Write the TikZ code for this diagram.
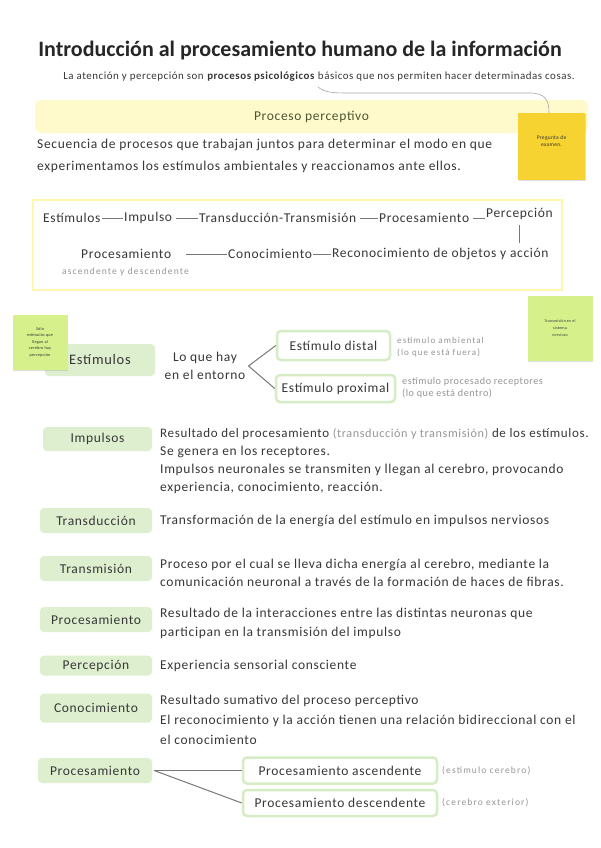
\documentclass[tikz,border=0pt]{standalone}
\usepackage{fontspec}
\setmainfont{Carlito}[LetterSpace=5]
\newfontfamily\titlefont{Carlito}
\newfontfamily\spacedfont{Carlito}[LetterSpace=12]
\usetikzlibrary{shadows}
\definecolor{txt}{RGB}{55,55,55}
\definecolor{graytxt}{RGB}{150,150,150}
\definecolor{greenfill}{RGB}{221,239,206}
\definecolor{greenline}{RGB}{214,236,196}
\definecolor{bandfill}{RGB}{255,250,204}
\definecolor{boxline}{RGB}{255,246,175}
\definecolor{stickyY}{RGB}{246,211,48}
\definecolor{stickyG}{RGB}{214,240,140}
\definecolor{connc}{RGB}{120,120,120}
\definecolor{olive}{RGB}{75,85,50}
\tikzset{
  lbl/.style={fill=greenfill, rounded corners=4pt, minimum width=110pt, minimum height=24pt,
    font=\fontsize{13.5}{15}\selectfont, text=txt, inner sep=0pt},
  desc/.style={anchor=base west, align=left, font=\fontsize{13.5}{18}\selectfont, text=txt, inner sep=0pt},
  wbox/.style={draw=greenline, line width=2.5pt, fill=white, rounded corners=4pt,
    font=\fontsize{13.5}{15}\selectfont, text=txt, inner sep=0pt},
  flow/.style={font=\fontsize{13.5}{15}\selectfont, text=txt, inner sep=1pt},
  conn/.style={draw=connc, line width=0.8pt},
  noteg/.style={font=\spacedfont\fontsize{9.5}{12}\selectfont, text=graytxt, align=left, inner sep=0pt},
  sticky/.style={minimum width=#1, minimum height=#1, inner sep=2pt, align=center,
    font=\fontsize{4.5}{6}\selectfont, text=black!80,
    drop shadow={shadow xshift=0.8pt, shadow yshift=-1.2pt, opacity=0.25}},
}
\begin{document}
\begin{tikzpicture}[x=1pt,y=-1pt]
\useasboundingbox (0,0) rectangle (600,848);
\fill[white] (0,0) rectangle (600,848);

% Title
\node[font=\titlefont\bfseries\fontsize{22}{26}\selectfont, text=black!85, inner sep=0] (title) at (300,51)
  {Introducción al procesamiento humano de la información};
\node[font=\fontsize{10.9}{12}\selectfont, text=txt, inner sep=0] (sub) at (319,77)
  {La atención y percepción son \textbf{procesos psicológicos} básicos que nos permiten hacer determinadas cosas.};
\coordinate (subc) at (318,87);

% band
\node[fill=bandfill, rounded corners=6pt, minimum width=553pt, minimum height=33pt, inner sep=0,
  font=\fontsize{13.5}{15}\selectfont, text=olive] (band) at (311.5,116.5) {Proceso perceptivo};

% yellow sticky
\node[sticky=67pt, fill=stickyY, anchor=north west] (sy) at (518,113) {};
\node[font=\fontsize{5.5}{7}\selectfont, align=center, text=black!80, inner sep=0] (syt) at (551.5,141)
  {Pregunta de\\examen.};
\draw[draw=black!35, line width=0.6pt] (subc) .. controls (325,93) and (335,93) .. (350,93)
  -- (530,93) .. controls (545,93) and (549,100) .. (sy.north -| 549,0);

\node[anchor=base west, align=left, font=\fontsize{13.5}{21}\selectfont, text=txt, inner sep=0] (par) at (37,170)
  {Secuencia de procesos que trabajan juntos para determinar el modo en que\\experimentamos los estímulos ambientales y reaccionamos ante ellos.};

% flow box
\draw[draw=boxline, line width=2.5pt] (33,200) rectangle (562,290);
\node[flow, anchor=west] (f1) at (42,218) {Estímulos};
\node[flow, anchor=west] (f2) at (123,218) {Impulso};
\node[flow, anchor=west] (f3) at (198,218) {Transducción-Transmisión};
\node[flow, anchor=west] (f4) at (378,218) {Procesamiento};
\node[flow, anchor=west] (f5) at (485,214) {Percepción};
\node[flow, anchor=west] (g1) at (80,254) {Procesamiento};
\node[flow, anchor=west] (g2) at (227,254) {Conocimiento};
\node[flow, anchor=west] (g3) at (331,254) {Reconocimiento de objetos y acción};
\node[noteg, anchor=west] (g4) at (62,272) {ascendente y descendente};
\draw[conn] (f1.east) -- (f2.west);
\draw[conn] ([xshift=3pt]f2.east) -- (f3.west);
\draw[conn] ([xshift=3pt]f3.east) -- (f4.west);
\draw[conn] ([xshift=3pt]f4.east) -- (f5.west |- f4.east);
\draw[conn] ([yshift=-4pt]f5.south) -- ([yshift=4pt]f5.south |- g3.north);
\draw[conn] ([xshift=14pt]g1.east) -- (g2.west);
\draw[conn] (g2.east) -- (g3.west);

% estimulos section
\node[lbl, minimum width=110pt, minimum height=32pt, font=\fontsize{14.5}{16}\selectfont] (est) at (100,360) {Estímulos};
\node[sticky=55pt, fill=stickyG, font=\fontsize{4.2}{6.5}\selectfont] (sg1) at (40,342)
  {Sólo\\estímulos que\\llegan al\\cerebro hay\\percepción};
\node[align=center, font=\fontsize{13.5}{18}\selectfont, text=txt, inner sep=1pt] (lq) at (205,366) {Lo que hay\\en el entorno};
\node[wbox, minimum width=113pt, minimum height=29pt] (dist) at (333.5,345.5) {Estímulo distal};
\node[wbox, minimum width=119pt, minimum height=27pt] (prox) at (335.5,388.5) {Estímulo proximal};
\draw[conn, line width=1pt] ([xshift=2pt]lq.east) -- (dist.west);
\draw[conn, line width=1pt] ([xshift=2pt]lq.east) -- (prox.west);
\node[noteg, anchor=base west, font=\spacedfont\fontsize{9}{12}\selectfont] (dn) at (397,355) {estímulo ambiental\\(lo que está fuera)};
\node[noteg, anchor=base west, font=\fontsize{10.2}{12}\selectfont] (pn) at (402,396) {estímulo procesado receptores\\(lo que está dentro)};
\node[sticky=65pt, fill=stickyG, font=\fontsize{4}{7}\selectfont] (sg2) at (560,328)
  {Transmisión en el\\sistema\\nervioso};

% definitions
\node[lbl, minimum width=109pt, minimum height=24pt] (imp) at (97.5,439) {Impulsos};
\node[desc, font=\fontsize{13.5}{18}\selectfont] (impd) at (160,491)
  {{\fontsize{13}{18}\selectfont Resultado del procesamiento {\color{graytxt}\fontsize{12.2}{18}\selectfont(transducción y transmisión)} de los estímulos.}\\
   Se genera en los receptores.\\
   Impulsos neuronales se transmiten y llegan al cerebro, provocando\\
   experiencia, conocimiento, reacción.};

\node[lbl, minimum width=112pt, minimum height=25pt] (trd) at (96,520.5) {Transducción};
\node[desc] (trdd) at (160,524) {Transformación de la energía del estímulo en impulsos nerviosos};

\node[lbl, minimum width=112pt, minimum height=25pt] (trm) at (96,568.5) {Transmisión};
\node[desc] (trmd) at (160,586)
  {Proceso por el cual se lleva dicha energía al cerebro, mediante la\\comunicación neuronal a través de la formación de haces de fibras.};

\node[lbl, minimum width=112pt, minimum height=25pt] (pro) at (96,619.5) {Procesamiento};
\node[desc, font=\fontsize{13.5}{19}\selectfont] (prod) at (160,636)
  {Resultado de la interacciones entre las distintas neuronas que\\participan en la transmisión del impulso};

\node[lbl, minimum width=112pt, minimum height=20pt] (per) at (96,665.5) {Percepción};
\node[desc] (perd) at (160,669) {Experiencia sensorial consciente};

\node[lbl, minimum width=112pt, minimum height=29pt] (con) at (96,708) {Conocimiento};
\node[desc, font=\fontsize{13.5}{20}\selectfont] (cond) at (160,744)
  {Resultado sumativo del proceso perceptivo\\El reconocimiento y la acción tienen una relación bidireccional con el\\el conocimiento};

\node[lbl, minimum width=114pt, minimum height=25pt] (pro2) at (95,770.5) {Procesamiento};
\node[wbox, minimum width=194pt, minimum height=26pt] (asc) at (340,770.5) {Procesamiento ascendente};
\node[wbox, minimum width=194pt, minimum height=26pt] (des) at (340,803) {Procesamiento descendente};
\draw[conn, line width=1pt] ([xshift=2pt]pro2.east) -- (asc.west);
\draw[conn, line width=1pt] ([xshift=2pt]pro2.east) -- (des.west);
\node[noteg, anchor=west] (ascn) at (442,771) {(estímulo cerebro)};
\node[noteg, anchor=west] (desn) at (442,803) {(cerebro exterior)};
\end{tikzpicture}
\end{document}
